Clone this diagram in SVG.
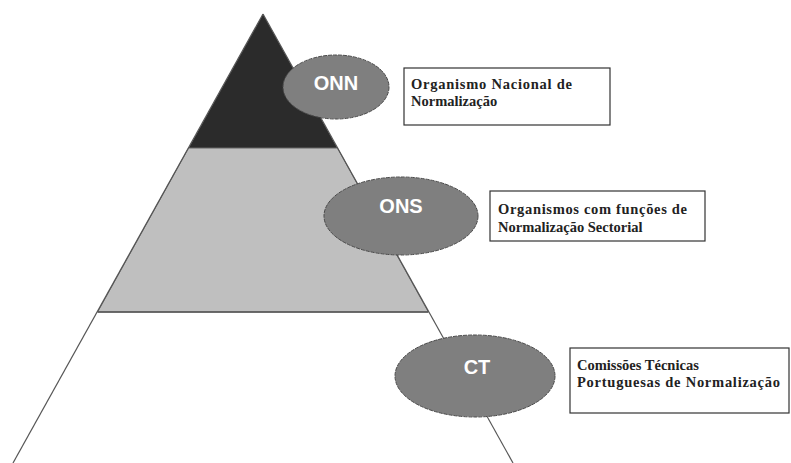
<svg xmlns="http://www.w3.org/2000/svg" width="791" height="463" viewBox="0 0 791 463">
<style>
.oval{fill:#7f7f7f;stroke:#4a4a4a;stroke-width:1;stroke-dasharray:4 1}
.lbl{font-family:"Liberation Sans",Arial,sans-serif;font-weight:bold;font-size:20px;fill:#ffffff;text-anchor:middle}
.box{fill:#ffffff;stroke:#333333;stroke-width:1.2}
.desc{font-family:"Liberation Serif","Times New Roman",serif;font-weight:bold;font-size:14.5px;fill:#222222}
.edge{stroke:#555555;stroke-width:1.2;fill:none}
</style>
<rect width="791" height="463" fill="#ffffff"/>
<g id="pyramid">
<polygon points="263,14 188.6,148 337.4,148" fill="#2b2b2b"/>
<polygon points="188.6,148 337.4,148 428.4,312 97.6,312" fill="#bfbfbf" stroke="#666666" stroke-width="1"/>
<line class="edge" x1="263" y1="14" x2="13" y2="463"/>
<line class="edge" x1="263" y1="14" x2="513" y2="463"/>
<line x1="97.6" y1="312" x2="428.4" y2="312" stroke="#555555" stroke-width="1.5"/>
</g>
<g id="connectors"></g>
<g id="onn">
<ellipse class="oval" cx="336" cy="87" rx="53" ry="32"/>
<text class="lbl" x="336" y="90">ONN</text>
</g>
<g id="onn-desc">
<rect class="box" x="404" y="68" width="206" height="57"/>
<text class="desc" x="411" y="89" textLength="161" lengthAdjust="spacing">Organismo Nacional de</text>
<text class="desc" x="411" y="106">Normalização</text>
</g>
<g id="ons">
<ellipse class="oval" cx="401" cy="216" rx="77" ry="39"/>
<text class="lbl" x="401" y="213">ONS</text>
</g>
<g id="ons-desc">
<rect class="box" x="490" y="191" width="215" height="50"/>
<text class="desc" x="498" y="214" textLength="189" lengthAdjust="spacing">Organismos com funções de</text>
<text class="desc" x="498" y="232">Normalização Sectorial</text>
</g>
<g id="ct">
<ellipse class="oval" cx="475" cy="376" rx="80" ry="41"/>
<text class="lbl" x="477" y="374">CT</text>
</g>
<g id="ct-desc">
<rect class="box" x="570" y="348" width="219" height="65"/>
<text class="desc" x="577" y="370">Comissões Técnicas</text>
<text class="desc" x="577" y="387" textLength="203" lengthAdjust="spacing">Portuguesas de Normalização</text>
</g>
</svg>
